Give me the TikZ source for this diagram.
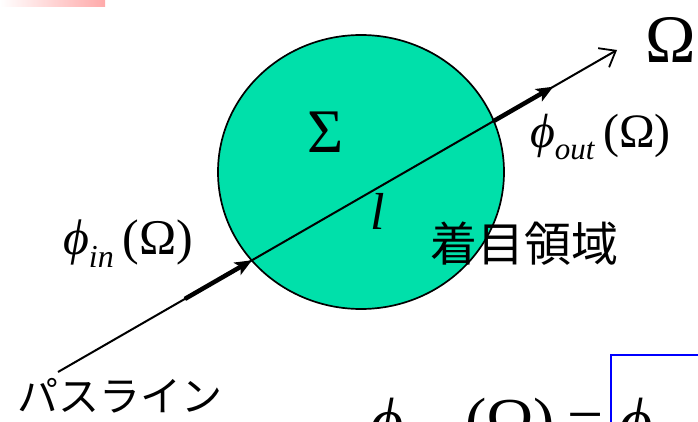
\documentclass[tikz,border=0pt]{standalone}
\usepackage{fontspec}
\setmainfont{Liberation Serif}
\newfontfamily\jp{Noto Sans CJK JP}
\usetikzlibrary{arrows.meta,calc}
\definecolor{mint}{RGB}{0,224,170}
\definecolor{barpink}{RGB}{255,170,170}
\tikzset{
  lbl/.style={inner sep=0pt, outer sep=0pt},
  pathline/.style={line width=2pt, black},
  fluxseg/.style={line width=4.5pt, black, -{Stealth[length=17pt, width=14pt, inset=4pt]}},
}
\begin{document}
\begin{tikzpicture}[x=1pt, y=-1pt]
\useasboundingbox (0,0) rectangle (698,422);
\clip (0,0) rectangle (698,422);
% pink header bar
\shade[left color=white, right color=barpink] (0,0) rectangle (105,7);
% region
\draw[fill=mint, line width=1.7pt] (361,172) ellipse [x radius=143, y radius=137];
\node[lbl] (region) at (361,172) {};
% path line
\coordinate (S) at (58,372);
\coordinate (E) at (617,50);
\draw[pathline, -{Straight Barb[length=14pt, width=22pt, line width=1.8pt]}] (S) -- (E);
\coordinate (inA) at ($(S)!0.227!(E)$);
\coordinate (inB) at ($(S)!0.347!(E)$);
\coordinate (outA) at ($(S)!0.778!(E)$);
\coordinate (outB) at ($(S)!0.886!(E)$);
\draw[fluxseg] (inA) -- (inB);
\draw[fluxseg] (outA) -- (outB);
% labels
\node[lbl, anchor=base west, font=\fontsize{68}{68}\selectfont] (omega) at (645,63) {Ω};
\node[lbl, anchor=base west, font=\fontsize{62}{62}\selectfont] (sigma) at (307,153) {Σ};
\node[lbl, anchor=base west, font=\fontsize{52}{52}\selectfont] (ell) at (370,229) {\textit{l}};
\node[lbl, anchor=base west, font=\fontsize{50}{50}\selectfont] (phin) at (63,254)
  {\textit{ϕ}\raisebox{-13pt}{\fontsize{32}{32}\selectfont\textit{in}}\hspace{9pt}(Ω)};
\node[lbl, anchor=base west, font=\fontsize{48}{48}\selectfont] (phout) at (530,148)
  {\textit{ϕ}\raisebox{-12pt}{\fontsize{31}{31}\selectfont\textit{out}}\hspace{8pt}(Ω)};
\node[lbl, anchor=west, font=\jp\fontsize{47}{47}\selectfont] (focus) at (430,244) {着目領域};
\node[lbl, anchor=west, font=\jp\fontsize{41}{41}\selectfont] (pathlbl) at (17,396) {パスライン};
% bottom equation (cut off at the lower edge)
\node[lbl, anchor=base west, font=\fontsize{64}{64}\selectfont] (eq) at (370,442)
  {\textit{ϕ}\hspace{62pt}(Ω)\hspace{12pt}=};
\draw[blue, line width=1.5pt] (611,460) -- (611,355) -- (720,355);
\node[lbl, anchor=base west, font=\fontsize{64}{64}\selectfont] (phibox) at (619,442) {\textit{ϕ}};
\end{tikzpicture}
\end{document}
